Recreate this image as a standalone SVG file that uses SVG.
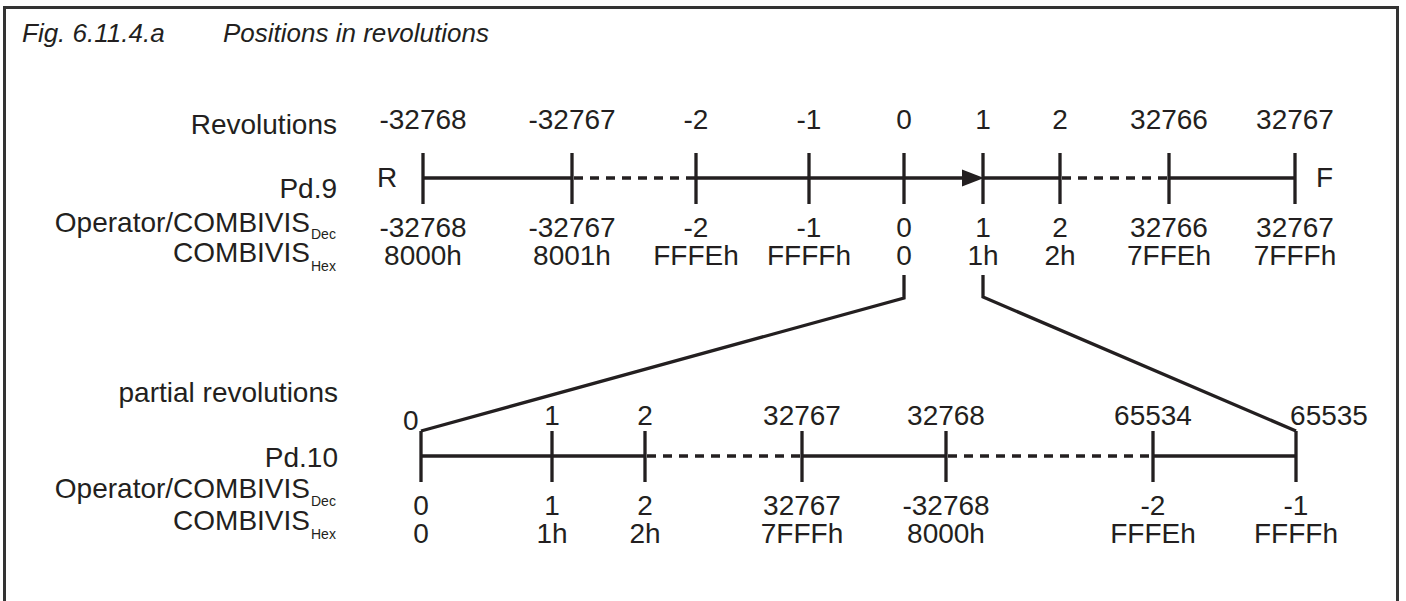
<svg xmlns="http://www.w3.org/2000/svg" width="1406" height="601" viewBox="0 0 1406 601">
<style>
text{font-family:"Liberation Sans",Arial,sans-serif;fill:#231f20;font-size:28px}
.t{font-style:italic;font-size:26px}
.r{text-anchor:end}
.m{text-anchor:middle}
.s{font-size:14px}
.ln{stroke:#231f20;stroke-width:3.3;fill:none}
.d{stroke-dasharray:9 7}
</style>
<rect width="1406" height="601" fill="#fff"/>
<path d="M4.5 601V7.5H1397.5V601" fill="none" stroke="#333" stroke-width="3"/>
<g id="title">
<text class="t" x="22" y="42">Fig. 6.11.4.a</text>
<text class="t" x="223" y="42">Positions in revolutions</text>
</g>
<g id="labels-top">
<text class="r" x="337" y="134">Revolutions</text>
<text class="r" x="337" y="198">Pd.9</text>
<text class="r" x="310" y="232">Operator/COMBIVIS</text><text class="s" x="311" y="239">Dec</text>
<text class="r" x="310" y="262">COMBIVIS</text><text class="s" x="311" y="271">Hex</text>
</g>
<g id="axis-revolutions">
<path class="ln" d="M423 178H572M696 178H963M983 178H1060M1169 178H1295"/>
<path class="ln d" d="M574 178H696M1062 178H1169"/>
<path class="ln" d="M423 153V204M572 153V204M696 153V204M809 153V204M904 153V204M983 153V204M1060 153V204M1169 153V204M1295 153V204"/>
<path d="M962 169.5L984 178L962 186.5Z" fill="#231f20"/>
<text x="377" y="187">R</text>
<text x="1316" y="187">F</text>
<g class="m">
<text x="423" y="129">-32768</text><text x="572" y="129">-32767</text><text x="696" y="129">-2</text><text x="809" y="129">-1</text><text x="904" y="129">0</text><text x="983" y="129">1</text><text x="1060" y="129">2</text><text x="1169" y="129">32766</text><text x="1295" y="129">32767</text>
<text x="423" y="237">-32768</text><text x="572" y="237">-32767</text><text x="696" y="237">-2</text><text x="809" y="237">-1</text><text x="904" y="237">0</text><text x="983" y="237">1</text><text x="1060" y="237">2</text><text x="1169" y="237">32766</text><text x="1295" y="237">32767</text>
<text x="423" y="265">8000h</text><text x="572" y="265">8001h</text><text x="696" y="265">FFFEh</text><text x="809" y="265">FFFFh</text><text x="904" y="265">0</text><text x="983" y="265">1h</text><text x="1060" y="265">2h</text><text x="1169" y="265">7FFEh</text><text x="1295" y="265">7FFFh</text>
</g>
</g>
<g id="connectors">
<path class="ln" d="M904 275V298L421 431"/>
<path class="ln" d="M983 275V297L1296 431"/>
</g>
<g id="labels-bottom">
<text class="r" x="338" y="402">partial  revolutions</text>
<text class="r" x="338" y="467">Pd.10</text>
<text class="r" x="310" y="498">Operator/COMBIVIS</text><text class="s" x="311" y="506">Dec</text>
<text class="r" x="310" y="530">COMBIVIS</text><text class="s" x="311" y="539">Hex</text>
</g>
<g id="axis-partial">
<path class="ln" d="M421 456H645M802 456H946M1153 456H1296"/>
<path class="ln d" d="M647 456H802M948 456H1153"/>
<path class="ln" d="M421 431V482M552 431V482M645 431V482M802 431V482M946 431V482M1153 431V482M1296 431V482"/>
<text x="403" y="430" font-size="25">0</text>
<g class="m">
<text x="552" y="425">1</text><text x="645" y="425">2</text><text x="802" y="425">32767</text><text x="946" y="425">32768</text><text x="1153" y="425">65534</text><text x="1329" y="425">65535</text>
<text x="421" y="515">0</text><text x="552" y="515">1</text><text x="645" y="515">2</text><text x="802" y="515">32767</text><text x="946" y="515">-32768</text><text x="1153" y="515">-2</text><text x="1296" y="515">-1</text>
<text x="421" y="543">0</text><text x="552" y="543">1h</text><text x="645" y="543">2h</text><text x="802" y="543">7FFFh</text><text x="946" y="543">8000h</text><text x="1153" y="543">FFFEh</text><text x="1296" y="543">FFFFh</text>
</g>
</g>
</svg>
